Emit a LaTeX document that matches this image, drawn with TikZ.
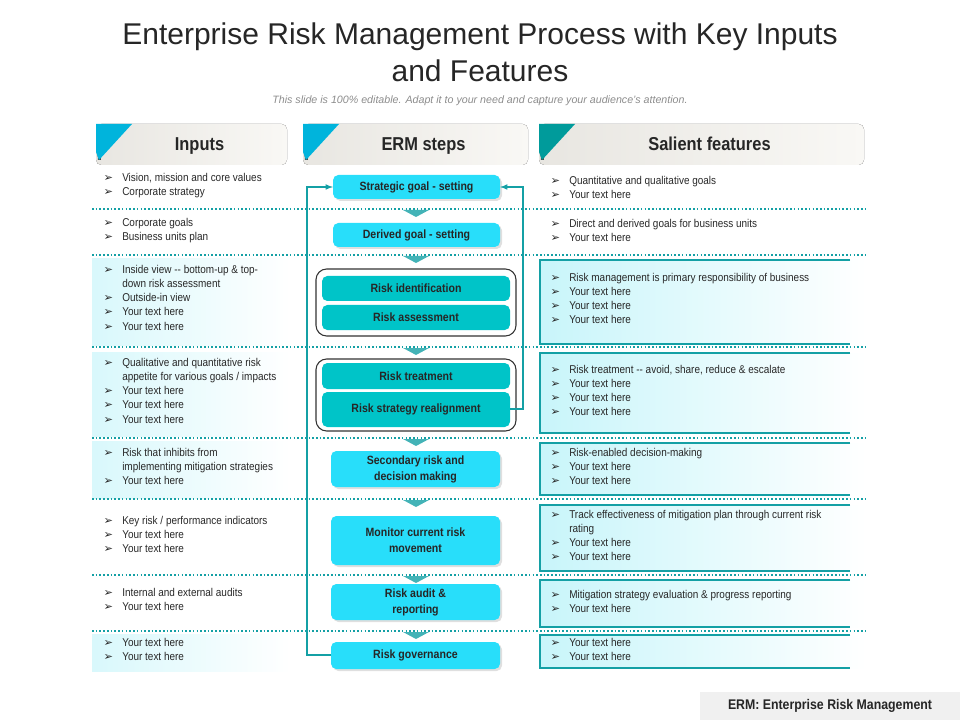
\documentclass[tikz,border=0pt]{standalone}
\usepackage{fontspec}
\setmainfont{Liberation Sans}
\newfontfamily\dejavu{DejaVu Sans}
\newfontfamily\narrow[FakeStretch=0.88]{Liberation Sans}
\usetikzlibrary{shadows}
\definecolor{teal1}{RGB}{20,160,165}
\definecolor{cyanstep}{RGB}{40,222,250}
\definecolor{tealstep}{RGB}{0,196,200}
\definecolor{hdrA}{RGB}{232,230,225}
\definecolor{hdrB}{RGB}{249,248,245}
\definecolor{cornerA}{RGB}{0,180,220}
\definecolor{cornerB}{RGB}{0,155,155}
\definecolor{lightcy}{RGB}{200,245,250}
\definecolor{txt}{RGB}{40,40,40}
\newcommand{\bul}{\makebox[15pt][l]{\hspace{1pt}{\dejavu\fontsize{8.5}{8}\selectfont ➢}}}
\newcommand{\cont}{\hspace*{15pt}}
\tikzset{
  lst/.style={anchor=north west,align=left,inner sep=0pt,text=txt,font=\narrow\fontsize{8.5}{10.6}\selectfont},
  sep/.style={teal1,line width=1.4pt,dash pattern=on 1.2pt off 1.6pt},
  stepc/.style={rounded corners=4pt,fill=cyanstep,drop shadow={shadow xshift=1.5pt,shadow yshift=-1.5pt,opacity=0.25}},
  stept/.style={rounded corners=4pt,fill=tealstep},
  steptxt/.style={align=center,font=\narrow\bfseries\fontsize{9}{12}\selectfont,text=black!85},
  lbox/.style={left color=lightcy!70,right color=white},
  rbox/.style={left color=lightcy,right color=white},
  tri/.style={fill=teal1!80},
  fb/.style={teal1,line width=0.9pt},
  hdr/.style={rounded corners=4pt,left color=hdrA,right color=hdrB},
  hdrtxt/.style={font=\narrow\bfseries\fontsize{14}{16}\selectfont,text=black!85},
}
\begin{document}
\begin{tikzpicture}[x=0.75pt,y=-0.75pt]
\useasboundingbox (0,0) rectangle (960,720);
% title
\node[font=\fontsize{22.5}{28}\selectfont,text=black!85,align=center] (title) at (480,52) {Enterprise Risk Management Process with Key Inputs\\and Features};
\node[font=\itshape\fontsize{8}{9}\selectfont,text=black!45] (sub) at (480,101) {This slide is 100\% editable. Adapt it to your need and capture your audience's attention.};
% headers
\foreach \x/\w/\t/\c/\n in {96/191/Inputs/cornerA/h1,303/225/ERM steps/cornerA/h2,539/325/Salient features/cornerB/h3}{
  \fill[hdr] (\x,124) rectangle ++(\w,41);
  \fill[black!70] (\x,136) -- (\x+2,160) -- (\x+5,160) -- (\x+3,136) -- cycle;
  \fill[\c] (\x,124) -- (\x+36,124) -- (\x+3,160) -- (\x,152) -- cycle;
  \node[hdrtxt,anchor=base] (\n) at (\x+\w/2+8,151) {\t};
}
% left gradient boxes
\fill[lbox] (92,259) rectangle (290,345);
\fill[lbox] (92,352) rectangle (290,436);
\fill[lbox] (92,441) rectangle (290,498);
\fill[lbox] (92,634) rectangle (290,671);
% right boxes
\foreach \a/\b in {260/344,353/433,443/495,505/571,580/627,635/668}{
  \fill[rbox] (540,\a) rectangle (866,\b);
  \draw[teal1,line width=0.8pt] (850,\a) -- (540,\a) -- (540,\b) -- (850,\b);
}
% separators
\foreach \y in {209,255,347,438,499,575,631}{
  \draw[sep] (92,\y) -- (866,\y);
  \fill[tri] (403,\y+1) -- (429,\y+1) -- (416,\y+8) -- cycle;
}
% inputs text
\node[lst] (i1) at (102,173) {\bul Vision, mission and core values\\\bul Corporate strategy};
\node[lst] (i2) at (102,218) {\bul Corporate goals\\\bul Business units plan};
\node[lst] (i3) at (102,265) {\bul Inside view -- bottom-up \& top-\\\cont down risk assessment\\\bul Outside-in view\\\bul Your text here\\\bul Your text here};
\node[lst] (i4) at (102,358) {\bul Qualitative and quantitative risk\\\cont appetite for various goals / impacts\\\bul Your text here\\\bul Your text here\\\bul Your text here};
\node[lst] (i5) at (102,448) {\bul Risk that inhibits from\\\cont implementing mitigation strategies\\\bul Your text here};
\node[lst] (i6) at (102,516) {\bul Key risk / performance indicators\\\bul Your text here\\\bul Your text here};
\node[lst] (i7) at (102,588) {\bul Internal and external audits\\\bul Your text here};
\node[lst] (i8) at (102,638) {\bul Your text here\\\bul Your text here};
% features text
\node[lst] (f1) at (549,176) {\bul Quantitative and qualitative goals\\\bul Your text here};
\node[lst] (f2) at (549,219) {\bul Direct and derived goals for business units\\\bul Your text here};
\node[lst] (f3) at (549,273) {\bul Risk management is primary responsibility of business\\\bul Your text here\\\bul Your text here\\\bul Your text here};
\node[lst] (f4) at (549,365) {\bul Risk treatment -- avoid, share, reduce \& escalate\\\bul Your text here\\\bul Your text here\\\bul Your text here};
\node[lst] (f5) at (549,448) {\bul Risk-enabled decision-making\\\bul Your text here\\\bul Your text here};
\node[lst] (f6) at (549,510) {\bul Track effectiveness of mitigation plan through current risk\\\cont rating\\\bul Your text here\\\bul Your text here};
\node[lst] (f7) at (549,590) {\bul Mitigation strategy evaluation \& progress reporting\\\bul Your text here};
\node[lst] (f8) at (549,638) {\bul Your text here\\\bul Your text here};
% group outlines
\draw[black!80,line width=0.8pt,rounded corners=8pt,fill=white] (316,269) rectangle (516,336);
\draw[black!80,line width=0.8pt,rounded corners=8pt,fill=white] (316,359) rectangle (516,431);
% steps
\fill[stepc] (333,175) rectangle (500,199); \node[steptxt] (s1) at (416.5,187) {Strategic goal - setting};
\fill[stepc] (333,223) rectangle (500,247); \node[steptxt] (s2) at (416.5,235) {Derived goal - setting};
\fill[stept] (322,276) rectangle (510,301); \node[steptxt] (s3) at (416,288.5) {Risk identification};
\fill[stept] (322,305) rectangle (510,330); \node[steptxt] (s4) at (416,317.5) {Risk assessment};
\fill[stept] (322,363) rectangle (510,389); \node[steptxt] (s5) at (416,376) {Risk treatment};
\fill[stept] (322,392) rectangle (510,427); \node[steptxt] (s6) at (416,409.5) {Risk strategy realignment};
\fill[stepc] (331,451) rectangle (500,487); \node[steptxt] (s7) at (415.5,469) {Secondary risk and\\decision making};
\fill[stepc] (331,516) rectangle (500,565); \node[steptxt] (s8) at (415.5,540.5) {Monitor current risk\\movement};
\fill[stepc] (331,584) rectangle (500,620); \node[steptxt] (s9) at (415.5,602) {Risk audit \&\\reporting};
\fill[stepc] (331,642) rectangle (500,669); \node[steptxt] (s10) at (415.5,655.5) {Risk governance};
\coordinate (s1l) at (333,187); \coordinate (s1r) at (500,187);
\coordinate (s10l) at (331,655); \coordinate (s6r) at (510,409);
% feedback lines
\draw[fb,-latex] (s10l) -- (307,655) -- (307,187) -- (s1l);
\draw[fb,-latex] (s6r) -- (523,409) -- (523,187) -- (s1r);
% footer
\fill[black!6] (700,692) rectangle (960,720);
\node[font=\narrow\bfseries\fontsize{10.5}{12}\selectfont,text=black!85] (foot) at (830,706) {ERM: Enterprise Risk Management};
\end{tikzpicture}
\end{document}
